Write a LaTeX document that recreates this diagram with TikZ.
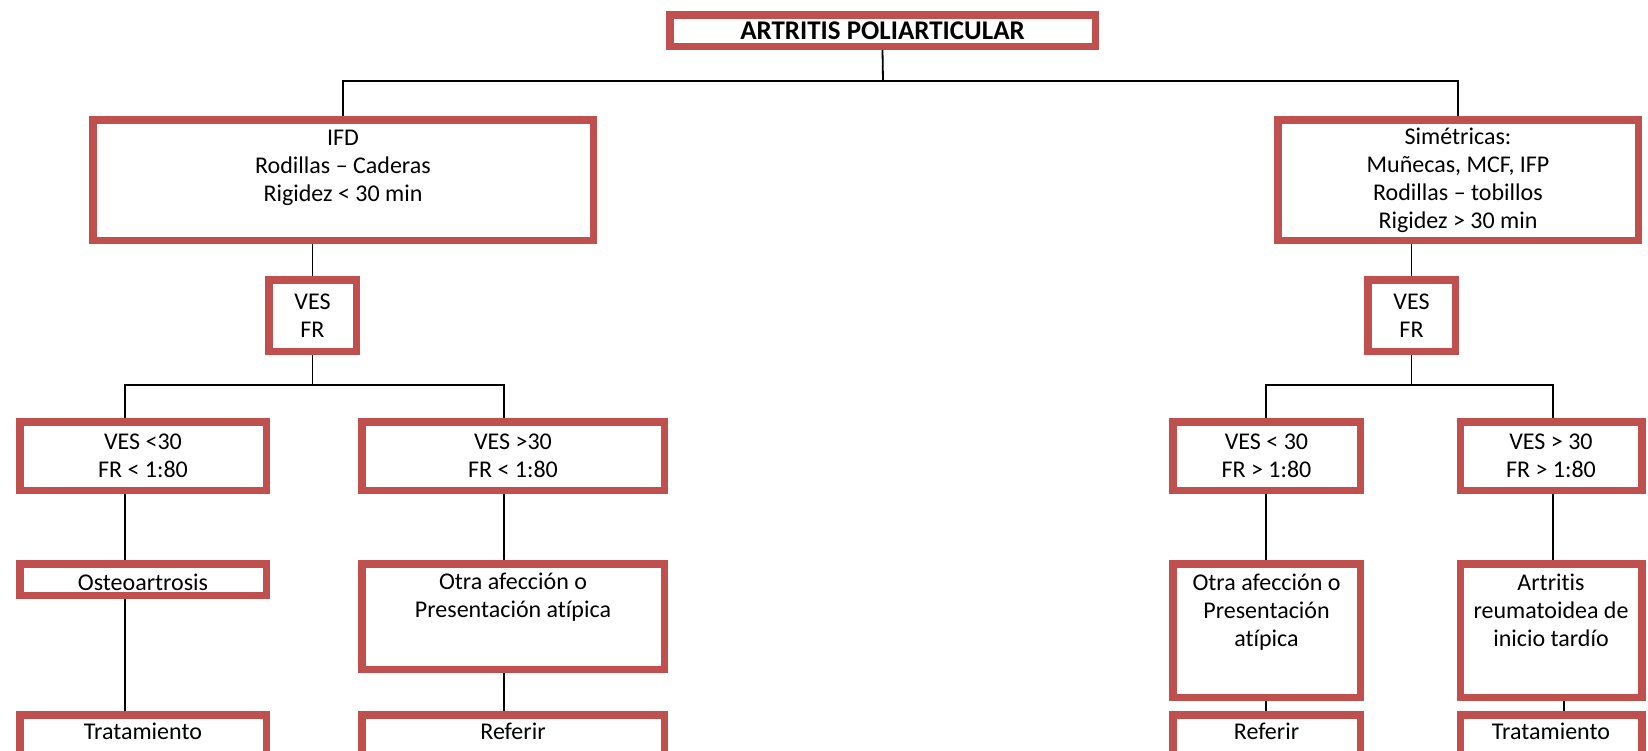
\documentclass[tikz,border=0pt]{standalone}
\usepackage{fontspec}
\setmainfont{Carlito}[Ligatures=NoCommon]
\definecolor{rojo}{RGB}{192,80,77}
\tikzset{
  caja/.style={draw=rojo, line width=7.5pt, fill=white, align=center, inner sep=0pt,
    font=\fontsize{24}{28}\selectfont},
  linea/.style={draw=black, line width=1.8pt}
}
\begin{document}
\begin{tikzpicture}[x=1pt,y=-1pt]
  \useasboundingbox (0,0) rectangle (1648,750);
  \clip (0,0) rectangle (1648,750);
  \node (tit) [caja, minimum width=425.5pt, minimum height=31.5pt, font=\fontsize{27}{30}\selectfont\bfseries] at (882.5,30.5) {ARTRITIS POLIARTICULAR};
  \node (ifd) [caja, minimum width=500.5pt, minimum height=120.5pt] at (343,180) {IFD\\Rodillas – Caderas\\Rigidez < 30 min\\~};
  \node (sim) [caja, minimum width=360.5pt, minimum height=120.5pt] at (1458,180) {Simétricas:\\Muñecas, MCF, IFP\\Rodillas – tobillos\\Rigidez > 30 min};
  \node (vesL) [caja, minimum width=87.5pt, minimum height=71.5pt] at (312.5,315.5) {VES\\FR};
  \node (vesR) [caja, minimum width=87.5pt, minimum height=71.5pt] at (1411.5,315.5) {VES\\FR};
  \node (vA) [caja, minimum width=246.5pt, minimum height=68.5pt] at (143,456) {VES <30\\FR < 1:80};
  \node (vB) [caja, minimum width=302.5pt, minimum height=68.5pt] at (513,456) {VES >30\\FR < 1:80};
  \node (vC) [caja, minimum width=187.5pt, minimum height=68.5pt] at (1266.5,456) {VES < 30\\FR > 1:80};
  \node (vD) [caja, minimum width=181.5pt, minimum height=68.5pt] at (1551,456) {VES > 30\\FR > 1:80};
  \node (osteo) [caja, minimum width=246.5pt, minimum height=31.5pt] at (143,579.5) {\raisebox{-3pt}[\height][\depth]{Osteoartrosis}};
  \node (otraA) [caja, minimum width=302.5pt, minimum height=105.5pt] at (513,616.5) {Otra afección o\\Presentación atípica\\[14pt]~};
  \node (otraB) [caja, minimum width=187.5pt, minimum height=133.5pt] at (1266.5,630.5) {Otra afección o\\Presentación\\atípica\\[12pt]~};
  \node (ar) [caja, minimum width=181.5pt, minimum height=133.5pt] at (1551,630.5) {Artritis\\reumatoidea de\\inicio tardío\\[12pt]~};
  \node (trat1) [caja, minimum width=246.5pt, minimum height=40pt] at (143,735) {\raisebox{4pt}[\height][\depth]{Tratamiento}};
  \node (ref1) [caja, minimum width=302.5pt, minimum height=40pt] at (513,735) {\raisebox{4pt}[\height][\depth]{Referir}};
  \node (ref2) [caja, minimum width=187.5pt, minimum height=40pt] at (1266.5,735) {\raisebox{4pt}[\height][\depth]{Referir}};
  \node (trat2) [caja, minimum width=181.5pt, minimum height=40pt] at (1551,735) {\raisebox{4pt}[\height][\depth]{Tratamiento}};

  \coordinate (ram) at (883,81);
  \coordinate (xA) at (125,385);
  \coordinate (xB) at (504,385);
  \coordinate (xC) at (1266,385);
  \coordinate (xD) at (1553,385);
  \coordinate (xE) at (1564,700);

  \draw[linea] (tit.south) -- (ram);
  \draw[linea] (ifd.north) |- (ram) -| (sim.north);
  \draw[linea] (vesL.north |- ifd.south) -- (vesL.north);
  \draw[linea] (vesR.north |- sim.south) -- (vesR.north);
  \draw[linea] (vesL.south) -- (vesL.south |- xA);
  \draw[linea] (xA |- vA.north) -- (xA) -- (xB) -- (xB |- vB.north);
  \draw[linea] (vesR.south) -- (vesR.south |- xC);
  \draw[linea] (xC |- vC.north) -- (xC) -- (xD) -- (xD |- vD.north);
  \draw[linea] (xA |- vA.south) -- (xA |- osteo.north);
  \draw[linea] (xA |- osteo.south) -- (xA |- trat1.north);
  \draw[linea] (xB |- vB.south) -- (xB |- otraA.north);
  \draw[linea] (xB |- otraA.south) -- (xB |- ref1.north);
  \draw[linea] (xC |- vC.south) -- (xC |- otraB.north);
  \draw[linea] (xC |- otraB.south) -- (xC |- ref2.north);
  \draw[linea] (xD |- vD.south) -- (xD |- ar.north);
  \draw[linea] (xE |- ar.south) -- (xE |- trat2.north);
\end{tikzpicture}
\end{document}
